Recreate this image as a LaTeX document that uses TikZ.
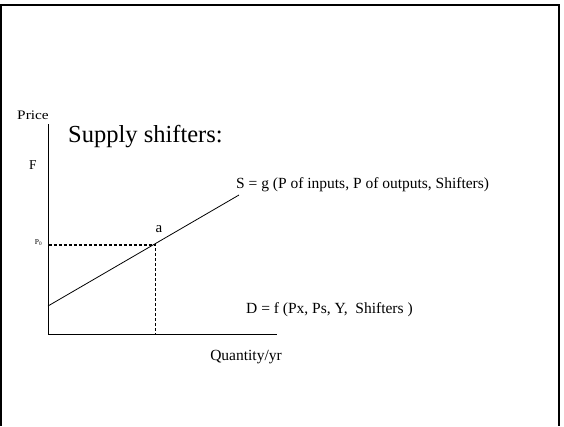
\documentclass[tikz,border=0pt]{standalone}
\usepackage{fontspec}
\setmainfont{Liberation Serif}
\begin{document}
\begin{tikzpicture}[x=1pt,y=-1pt,
  lbl/.style={inner sep=0pt,font=\fontsize{15.5}{18}\selectfont},
  axis/.style={line width=1pt},
  guide/.style={line width=1.2pt,dash pattern=on 3.3pt off 1.7pt}]
\useasboundingbox (0,0) rectangle (564,426);
% frame
\draw[line width=2pt] (1,426) -- (1,5) -- (559,5) -- (559,426);
% axes
\coordinate (top) at (48,124);
\coordinate (origin) at (48,334);
\coordinate (xend) at (277,334);
\draw[axis] (top) -- (origin) -- (xend);
% supply
\coordinate (s0) at (48,306);
\coordinate (s1) at (239,195);
\coordinate (a) at (155.5,245);
\draw[line width=0.8pt] (s0) -- (s1);
\coordinate (p0y) at (48.5,245);
\coordinate (qa) at (155.5,334);
\draw[guide] (p0y) -- (a) -- (qa);
% labels
\node[lbl,font=\fontsize{13}{15}\selectfont,xscale=1.18] (price) at (33,115) {Price};
\node[lbl,font=\fontsize{24.5}{28}\selectfont,anchor=west] (title) at (68,137) {Supply shifters:};
\node[lbl,font=\fontsize{13.5}{16}\selectfont] (F) at (33,165) {F};
\node[lbl,anchor=west] (S) at (236,185) {S = g (P of inputs, P of outputs, Shifters)};
\node[lbl,font=\fontsize{15}{18}\selectfont] (alab) at (159,229) {a};
\node[lbl,font=\fontsize{7.5}{9}\selectfont] (P0) at (38.5,243) {P\textsubscript{0}};
\node[lbl,anchor=west] (D) at (246,310) {D = f (Px, Ps, Y,\ \ Shifters )};
\node[lbl] (Q) at (246,357) {Quantity/yr};
\end{tikzpicture}
\end{document}
